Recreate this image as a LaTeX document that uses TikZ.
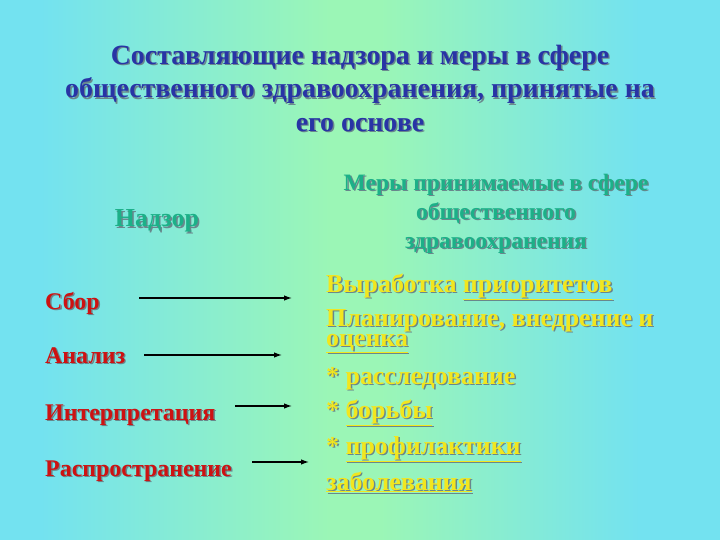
\documentclass[tikz,border=0pt]{standalone}
\usepackage{fontspec}
\setmainfont{Liberation Serif}
\usetikzlibrary{arrows.meta}

\definecolor{bgcyan}{RGB}{115,226,240}
\definecolor{bggreen}{RGB}{155,246,182}
\definecolor{titleblue}{RGB}{40,52,165}
\definecolor{headteal}{RGB}{28,176,136}
\definecolor{itemred}{RGB}{205,18,18}
\definecolor{measyellow}{RGB}{242,230,30}
\definecolor{shadowgray}{RGB}{105,135,140}

% slide background: cyan - green - cyan
\pgfdeclarehorizontalshading{slidebg}{100bp}{color(0bp)=(bgcyan); color(27.8bp)=(bgcyan);
  color(47.9bp)=(bggreen); color(51.4bp)=(bggreen); color(69.4bp)=(bgcyan); color(100bp)=(bgcyan)}

% text with a drop shadow
\newcommand\shd[1]{\leavevmode\rlap{\kern1.4pt\raisebox{-1.4pt}{\color{shadowgray}#1}}#1}

\begin{document}
\begin{tikzpicture}[x=1bp, y=-1bp,
    every node/.style={inner sep=0pt},
    title/.style={font=\fontsize{28}{33.5}\selectfont\bfseries, text=titleblue, align=center},
    head/.style={font=\fontsize{26}{29}\selectfont\bfseries, text=headteal, align=center},
    comp/.style={font=\fontsize{24}{26}\selectfont\bfseries, text=itemred, anchor=base west},
    meas/.style={font=\fontsize{26}{20}\selectfont\bfseries, text=measyellow, anchor=base west, align=left},
    link/.style={-{Latex[length=8pt,width=5.5pt]}, line width=1.2pt, black}]
  \useasboundingbox (0,0) rectangle (720,540);
  % background
  \shade[shading=slidebg] (0,0) rectangle (720,540);
  % title
  \node[title, anchor=north] (title) at (360,45)
    {\shd{Составляющие надзора и меры в сфере}\\
     \shd{общественного здравоохранения, принятые на}\\
     \shd{его основе}};
  % column heads
  \node[head, anchor=base] (nadzor) at (157,227) {\shd{Надзор}};
  \node[head, font=\fontsize{23.6}{29}\selectfont\bfseries, anchor=north] (mery) at (496,174)
    {\shd{Меры принимаемые в сфере}\\
     \shd{общественного}\\
     \shd{здравоохранения}};
  % components of surveillance
  \node[comp] (sbor)   at (45,309) {\shd{Сбор}};
  \node[comp] (analiz) at (45,363) {\shd{Анализ}};
  \node[comp] (interp) at (45,420) {\shd{Интерпретация}};
  \node[comp] (rasp)   at (45,476) {\shd{Распространение}};
  % measures
  \node[meas] (prior)   at (326,292) {\shd{Выработка \underline{приоритетов}}};
  \node[meas, anchor=north west] (plan) at (326,309)
    {\shd{Планирование, внедрение и}\\ \shd{\underline{оценка}}};
  \node[meas] (rassl)   at (326,384) {\shd{* расследование}};
  \node[meas] (borba)   at (326,418) {\shd{* \underline{борьбы}}};
  \node[meas] (profil)  at (326,454) {\shd{* \underline{профилактики}}};
  \node[meas] (zabol)   at (326,490) {\shd{\underline{заболевания}}};
  % arrows
  \coordinate (sbor-from)   at (139,298);
  \coordinate (sbor-to)     at (292,298);
  \coordinate (analiz-from) at (144,355);
  \coordinate (analiz-to)   at (282,355);
  \coordinate (interp-from) at (235,406);
  \coordinate (interp-to)   at (292,406);
  \coordinate (rasp-from)   at (252,462);
  \coordinate (rasp-to)     at (309,462);
  \foreach \k in {sbor,analiz,interp,rasp}
    \draw[link] (\k-from) -- (\k-to);
\end{tikzpicture}
\end{document}
